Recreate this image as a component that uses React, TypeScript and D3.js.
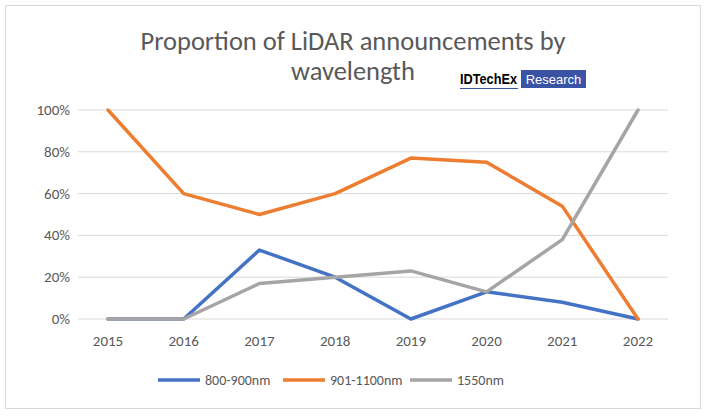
import React from "react";
import * as d3 from "d3";

const years = [2015, 2016, 2017, 2018, 2019, 2020, 2021, 2022];
const s800 = [0, 0, 33, 20, 0, 13, 8, 0];
const s901 = [100, 60, 50, 60, 77, 75, 54, 0];
const s1550 = [0, 0, 17, 20, 23, 13, 38, 100];
const yTicks = [0, 20, 40, 60, 80, 100];

const series = [
  { name: "800-900nm", values: s800, color: "#4472c4" },
  { name: "901-1100nm", values: s901, color: "#ed7d31" },
  { name: "1550nm", values: s1550, color: "#a5a5a5" },
];

export default function App() {
  const x = d3.scalePoint<number>().domain(years).range([108, 638]);
  const y = d3.scaleLinear().domain([0, 100]).range([319, 110]);
  const line = d3.line<number>().x((_, i) => x(years[i])!).y((d) => y(d));
  const font = "Calibri, Carlito, 'Liberation Sans', Arial, sans-serif";
  const legendX = [158, 283, 410];

  return (
    <svg width={707} height={416} style={{ position: "absolute", left: 0, top: 0 }} fontFamily={font}>
      <rect x={0} y={0} width={707} height={416} fill="#fff" />
      <rect x={5.5} y={5.5} width={695} height={403} fill="none" stroke="#d9d9d9" />
      <text x={353} y={50} textAnchor="middle" fontSize={26.5} fill="#595959">
        Proportion of LiDAR announcements by
      </text>
      <text x={353} y={80} textAnchor="middle" fontSize={26.5} fill="#595959">
        wavelength
      </text>
      <text x={460} y={84} fontSize={15} fontWeight="bold" fill="#000" fontFamily="'Liberation Sans', Arial, sans-serif" textLength={57} lengthAdjust="spacingAndGlyphs">
        IDTechEx
      </text>
      <line x1={460} x2={518} y1={88.5} y2={88.5} stroke="#3a53a4" strokeWidth={1.2} />
      <rect x={521} y={70} width={65} height={18} fill="#3a53a4" />
      <text x={553.5} y={84} textAnchor="middle" fontSize={13} fill="#fff" fontFamily="'Liberation Sans', Arial, sans-serif">
        Research
      </text>
      {yTicks.map((t) => (
        <g key={t}>
          <line x1={78} x2={668} y1={y(t)} y2={y(t)} stroke="#d9d9d9" />
          <text x={70} y={y(t) + 5} textAnchor="end" fontSize={15} fill="#595959">
            {t}%
          </text>
        </g>
      ))}
      {years.map((yr) => (
        <text key={yr} x={x(yr)} y={346} textAnchor="middle" fontSize={15} fill="#595959">
          {yr}
        </text>
      ))}
      {series.map((s) => (
        <path key={s.name} d={line(s.values)!} fill="none" stroke={s.color} strokeWidth={3.5} strokeLinejoin="round" strokeLinecap="round" />
      ))}
      {series.map((s, i) => (
        <g key={s.name}>
          <line x1={legendX[i]} x2={legendX[i] + 42} y1={380} y2={380} stroke={s.color} strokeWidth={3.5} />
          <text x={legendX[i] + 47} y={385} fontSize={14} fill="#595959">
            {s.name}
          </text>
        </g>
      ))}
    </svg>
  );
}
